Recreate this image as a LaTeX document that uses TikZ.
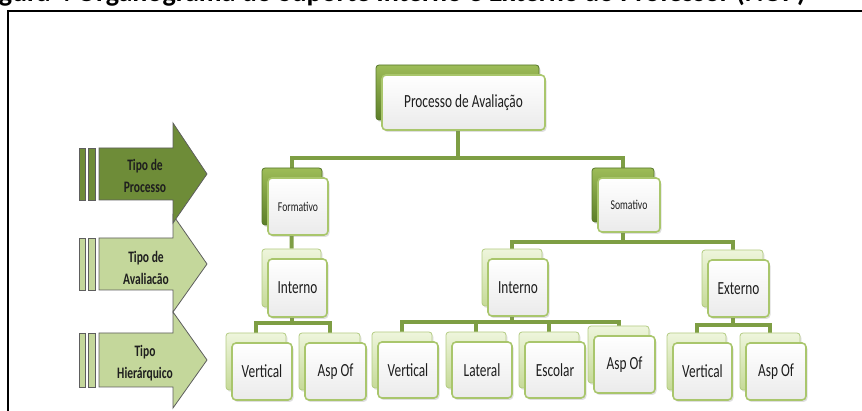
\documentclass[tikz,border=0pt]{standalone}
\usepackage{fontspec}
\setmainfont{Carlito}
\newfontfamily\orgfont[FakeStretch=0.72]{Carlito}
\usetikzlibrary{shadows,backgrounds}

\definecolor{linkgreen}{HTML}{7E9E44}
\definecolor{darktop}{HTML}{9DBC58}
\definecolor{darkbot}{HTML}{5C7E28}
\definecolor{darkedge}{HTML}{56762A}
\definecolor{lighttop}{HTML}{EEF5DC}
\definecolor{lightbot}{HTML}{C6DA98}
\definecolor{lightedge}{HTML}{B3CB82}
\definecolor{frontedge}{HTML}{A9C66C}
\definecolor{arrowdark}{HTML}{6E8C38}
\definecolor{arrowlight}{HTML}{C4D79B}
\definecolor{arrowedge}{HTML}{5E5E5E}
\definecolor{inktext}{HTML}{1E1E1E}

\tikzset{
  backdark/.style={draw=darkedge, line width=0.8pt, rounded corners=3pt,
    top color=darktop, bottom color=darkbot, inner sep=0pt,
    drop shadow={opacity=0.25, shadow xshift=1.5pt, shadow yshift=-2pt}},
  backlight/.style={draw=lightedge, line width=0.8pt, rounded corners=3pt,
    top color=lighttop, bottom color=lightbot, inner sep=0pt,
    drop shadow={opacity=0.2, shadow xshift=1.5pt, shadow yshift=-2pt}},
  frontbox/.style={draw=frontedge, line width=1.6pt, rounded corners=4pt,
    top color=white, bottom color=black!8, inner sep=0pt, text=inktext,
    drop shadow={opacity=0.25, shadow xshift=1.5pt, shadow yshift=-2pt}},
  link/.style={draw=linkgreen, line width=4pt},
  arrowbody/.style={draw=arrowedge, line width=0.8pt, line join=miter},
  arrlabel/.style={align=center, text=inktext,
    font=\orgfont\bfseries\fontsize{16}{22}\selectfont},
}

% name, back style, font size, centre x, centre y, width, height, text
\newcommand\orgbox[8]{%
  \node[#2, minimum width=#6, minimum height=#7] (#1b) at ({#4-6},{#5-10}) {};
  \node[frontbox, minimum width=#6, minimum height=#7,
        font=\orgfont\fontsize{#3}{#3}\selectfont] (#1) at (#4,#5) {#8};
}

\begin{document}
\begin{tikzpicture}[x=1pt, y=-1pt]
\useasboundingbox (0,0) rectangle (862,411);

% caption running above the frame
\node[anchor=base east, inner sep=0pt, font=\bfseries\fontsize{28}{28}\selectfont]
  (caption) at (806,1.5) {Figura 4 Organograma do Suporte Interno e Externo ao Professor (NOP)};

% frame
\draw[line width=2pt] (8,11) rectangle (874,425);

% level arrows
\begin{scope}[arrowbody]
  % Tipo Hierárquico
  \draw[fill=arrowlight] (79,333) rectangle (85,387);
  \draw[fill=arrowlight] (88,333) rectangle (95,387);
  \draw[fill=arrowlight] (99,333) -- (173,333) -- (173,312) -- (207,360)
    -- (173,408) -- (173,387) -- (99,387) -- cycle;
  % Tipo de Avaliação
  \draw[fill=arrowlight] (79,238) rectangle (85,290);
  \draw[fill=arrowlight] (88,238) rectangle (95,290);
  \draw[fill=arrowlight] (99,238) -- (173,238) -- (173,215) -- (207,264)
    -- (173,312) -- (173,290) -- (99,290) -- cycle;
  % Tipo de Processo
  \draw[fill=arrowdark] (79,148) rectangle (85,200);
  \draw[fill=arrowdark] (88,148) rectangle (95,200);
  \draw[fill=arrowdark] (99,148) -- (173,148) -- (173,123) -- (207,174)
    -- (173,223) -- (173,200) -- (99,200) -- cycle;
\end{scope}
\node[arrlabel] (lab1) at (145,176) {Tipo de\\Processo};
\node[arrlabel] (lab2) at (146,268) {Tipo de\\Avaliacão};
\node[arrlabel] (lab3) at (145,363) {Tipo\\Hierárquico};

% organisation chart
\orgbox{proc}{backdark}{18.5}{463.5}{102.5}{163}{55}{Processo de Avaliação}
\orgbox{form}{backdark}{13.5}{298}{206.5}{60}{57}{Formativo}
\orgbox{soma}{backdark}{13.5}{629}{205}{62}{54}{Somativo}
\orgbox{intL}{backlight}{18.5}{297.5}{288}{59}{58}{Interno}
\orgbox{intM}{backlight}{18.5}{518}{287.5}{60}{57}{Interno}
\orgbox{ext}{backlight}{18.5}{738.5}{288.5}{61}{57}{Externo}
\orgbox{vL}{backlight}{18.5}{262}{371.5}{60}{57}{Vertical}
\orgbox{aL}{backlight}{18.5}{335.5}{371.5}{61}{57}{Asp Of}
\orgbox{vM}{backlight}{18.5}{408}{370}{60}{56}{Vertical}
\orgbox{lat}{backlight}{18.5}{482}{370}{60}{56}{Lateral}
\orgbox{esc}{backlight}{18.5}{555}{370}{60}{56}{Escolar}
\orgbox{aM}{backlight}{18.5}{624.5}{364.5}{61}{57}{Asp Of}
\orgbox{vR}{backlight}{18.5}{702.5}{371.5}{59}{57}{Vertical}
\orgbox{aR}{backlight}{18.5}{776}{371.5}{60}{57}{Asp Of}

% connector bars
\coordinate (barTop) at (0,158);
\coordinate (barSoma) at (0,242);
\coordinate (barIntL) at (0,323);
\coordinate (barIntM) at (0,322);
\coordinate (barExt) at (0,325);

\begin{pgfonlayer}{background}
  \draw[link] (procb.center) -- (procb.center |- barTop);
  \draw[link] (formb.north) -- (formb.north |- barTop) -- (somab.north |- barTop) -- (somab.north);
  \draw[link] (formb.center) -- (intLb.north);
  \draw[link] (somab.center) -- (somab.center |- barSoma);
  \draw[link] (intMb.north) -- (intMb.north |- barSoma) -- (extb.north |- barSoma) -- (extb.north);
  \draw[link] (intLb.center) -- (intLb.center |- barIntL);
  \draw[link] (vLb.north) -- (vLb.north |- barIntL) -- (aLb.north |- barIntL) -- (aLb.north);
  \draw[link] (intMb.center) -- (intMb.center |- barIntM);
  \draw[link] (vMb.north) -- (vMb.north |- barIntM) -- (aMb.north |- barIntM) -- (aMb.north);
  \draw[link] (latb.north) -- (latb.north |- barIntM);
  \draw[link] (escb.north) -- (escb.north |- barIntM);
  \draw[link] (extb.center) -- (extb.center |- barExt);
  \draw[link] (vRb.north) -- (vRb.north |- barExt) -- (aRb.north |- barExt) -- (aRb.north);
\end{pgfonlayer}
\end{tikzpicture}
\end{document}
